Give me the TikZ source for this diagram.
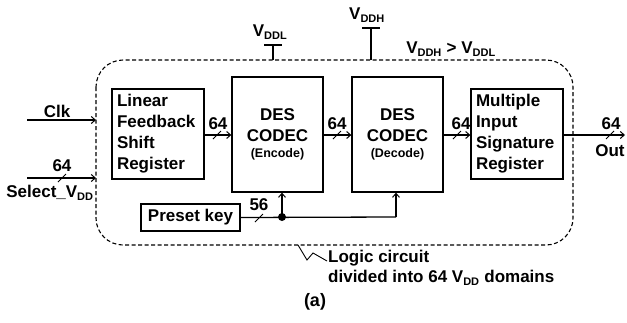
\documentclass[tikz,border=0pt]{standalone}
\usepackage{fontspec}
\setmainfont{Liberation Sans}
\usetikzlibrary{arrows.meta,positioning}
\newcommand{\sbs}[1]{\textsubscript{\fontsize{11}{11}\selectfont #1}}
\tikzset{
  blk/.style={draw, line width=1.3pt, inner sep=0pt, font=\bfseries\fontsize{17}{21}\selectfont},
  conn/.style={line width=1.3pt, -{Straight Barb[length=4pt,width=7pt,line width=1pt]}},
  wire/.style={line width=1.3pt},
  lbl/.style={font=\bfseries\fontsize{17}{20}\selectfont, inner sep=0pt},
  slash/.style={line width=1pt},
  vddbox/.style={dash pattern=on 4pt off 2.5pt, line width=1.1pt, rounded corners=27pt}
}
\begin{document}
\begin{tikzpicture}[x=1pt,y=-1pt]
\useasboundingbox (0,0) rectangle (627,322);
% dashed domain box
\draw[vddbox] (96,60) rectangle (573,245);
% blocks
\node[blk, minimum width=92pt, minimum height=90pt, align=left, text width=82pt] (lfsr) at (158,134) {Linear\\Feedback\\Shift\\Register};
\node[blk, minimum width=91pt, minimum height=115pt, align=center] (enc) at (277.5,134.5) {DES\\CODEC\\[-5pt]\fontsize{12.5}{14}\selectfont(Encode)};
\node[blk, minimum width=91pt, minimum height=115pt, align=center] (dec) at (397.5,134.5) {DES\\CODEC\\[-5pt]\fontsize{12.5}{14}\selectfont(Decode)};
\node[blk, minimum width=92pt, minimum height=90pt, align=left, text width=82pt] (misr) at (517,134) {Multiple\\Input\\Signature\\Register};
\node[blk, minimum width=99pt, minimum height=27pt] (preset) at (190.5,217.5) {Preset key};
% inputs
\coordinate (clkin) at (27,120);
\coordinate (clkend) at (96,120);
\coordinate (selin) at (27,178);
\coordinate (selend) at (96,178);
\coordinate (outend) at (625,135);
\draw[conn] (clkin) -- (clkend);
\node[lbl] (clk) at (57,111) {Clk};
\draw[conn] (selin) -- (selend);
\draw[slash] (58,182) -- (66,174);
\node[lbl] (sel64) at (62,166) {64};
\node[lbl] (sel) at (50,193) {Select\_V\sbs{DD}};
% data path
\draw[conn] (lfsr.east |- 0,135) -- (enc.west |- 0,135);
\draw[slash] (213,139) -- (221,131);
\node[lbl] (l1) at (218,124) {64};
\draw[conn] (enc.east |- 0,135) -- (dec.west |- 0,135);
\draw[slash] (333,139) -- (341,131);
\node[lbl] (l2) at (337,124) {64};
\draw[conn] (dec.east |- 0,135) -- (misr.west |- 0,135);
\draw[slash] (453,139) -- (461,131);
\node[lbl] (l3) at (461,124) {64};
\draw[conn] (misr.east |- 0,135) -- (outend);
\draw[slash] (606,139) -- (614,131);
\node[lbl] (l4) at (611,124) {64};
\node[lbl] (out) at (610,151) {Out};
% preset key
\coordinate (dot) at (282,217);
\coordinate (corner) at (396,217);
\draw[wire] (preset.east) -- (corner);
\draw[conn] (corner) -- (dec.south -| corner);
\draw[conn] (dot) -- (enc.south -| dot);
\fill (dot) circle (4pt);
\draw[slash] (255,222) -- (263,214);
\node[lbl] (l56) at (259,205) {56};
% supplies
\coordinate (vlbar) at (273,45);
\coordinate (vlbox) at (273,60);
\draw[wire] (264,45) -- (282,45);
\draw[wire] (vlbar) -- (vlbox);
\node[lbl] (vddl) at (270,32) {V\sbs{DDL}};
\coordinate (vhbar) at (371,28);
\coordinate (vhbox) at (371,60);
\draw[wire] (362,28) -- (380,28);
\draw[wire] (vhbar) -- (vhbox);
\node[lbl] (vddh) at (367,15) {V\sbs{DDH}};
\node[lbl] (cmp) at (451,49) {V\sbs{DDH} > V\sbs{DDL}};
% zigzag callout
\draw[line width=0.9pt] (298,245) -- (307,260) -- (313,253) -- (327,261);
\node[lbl, align=left, anchor=north west] (logic) at (328,250) {Logic circuit\\divided into 64 V\sbs{DD} domains};
\node[lbl, font=\bfseries\fontsize{18}{20}\selectfont] (a) at (315,302) {(a)};
\end{tikzpicture}
\end{document}
